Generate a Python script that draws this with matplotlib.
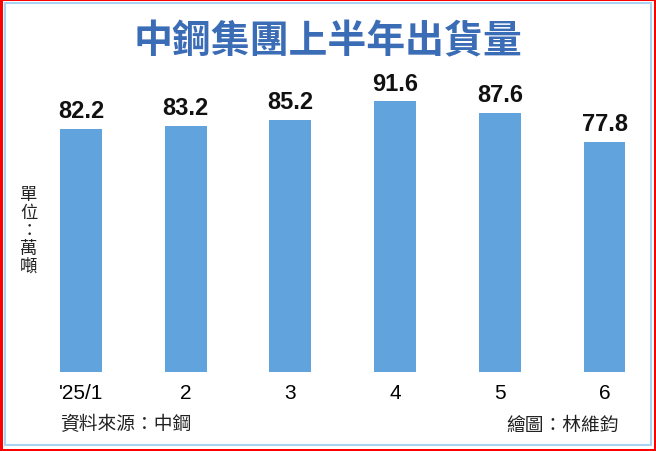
import matplotlib
matplotlib.use("Agg")
import matplotlib.pyplot as plt
from matplotlib.patches import Rectangle

categories = ["'25/1", "2", "3", "4", "5", "6"]
values = [82.2, 83.2, 85.2, 91.6, 87.6, 77.8]
title = "中鋼集團上半年出貨量"
unit_label = "單位：萬噸"
source = "資料來源：中鋼"
credit = "繪圖：林維鈞"

W, H = 656, 452
fig = plt.figure(figsize=(W / 100, H / 100), dpi=100)
fig.patch.set_facecolor("white")

def fx(px):
    return px / W

def fy(py):
    return 1 - py / H

# axes mapping: bar baseline at pixel y=372.7, 2.95 px per unit
base_px = 372.7
scale = 2.95
ymax = 100
ax_bottom = fy(base_px)
ax_height = ymax * scale / H
ax = fig.add_axes([0, ax_bottom, 1, ax_height])
spacing = 104.7
c0 = 81.0
ax.set_xlim(-c0 / spacing, (W - c0) / spacing)
ax.set_ylim(0, ymax)
x = list(range(len(values)))
bars = ax.bar(x, values, width=0.40, color="#60a3dd", zorder=2)
for xi, v in zip(x, values):
    ax.annotate(f"{v:.1f}", (xi, v), xytext=(0, 5), textcoords="offset points",
                ha="center", va="bottom", fontsize=17, fontweight="bold",
                family=["Liberation Sans", "DejaVu Sans"], color="#111111")
ax.set_xticks(x)
ax.set_xticklabels(categories, fontsize=15, family=["Liberation Sans Narrow", "Liberation Sans", "DejaVu Sans"])
ax.tick_params(axis="x", length=0, pad=8)
ax.set_yticks([])
for s in ax.spines.values():
    s.set_visible(False)
ax.patch.set_alpha(0)

cjk = ["Noto Sans CJK TC", "DejaVu Sans"]
fig.text(0.5, fy(42), title, ha="center", va="center", fontsize=28,
         fontweight="bold", color="#3b6cb6", family=cjk)
fig.text(fx(29), fy(231), "\n".join(unit_label), ha="center", va="center",
         fontsize=12.5, color="#222222", family=cjk, linespacing=1.0)
fig.text(fx(60), fy(425), source, ha="left", va="center", fontsize=13.5,
         color="#222222", family=cjk)
fig.text(fx(619), fy(425), credit, ha="right", va="center", fontsize=13.5,
         color="#222222", family=cjk)

# frame
tf = fig.transFigure
fig.add_artist(Rectangle((fx(4.5), fy(446)), fx(646), 1 - fy(442) , transform=tf,
                         fill=False, edgecolor="#a9d3f2", linewidth=1.5))
fig.add_artist(Rectangle((0, 0), fx(3), 1, transform=tf, color="#ff0000", linewidth=0))
fig.add_artist(Rectangle((0, fy(2)), 1, 2 / H, transform=tf, color="#ff0000", linewidth=0))
fig.add_artist(Rectangle((fx(653.5), 0), fx(2.5), 1, transform=tf, color="#ff0000", linewidth=0))
fig.add_artist(Rectangle((0, 0), 1, 2.5 / H, transform=tf, color="#ff0000", linewidth=0))

fig.savefig("out.png", dpi=100)
